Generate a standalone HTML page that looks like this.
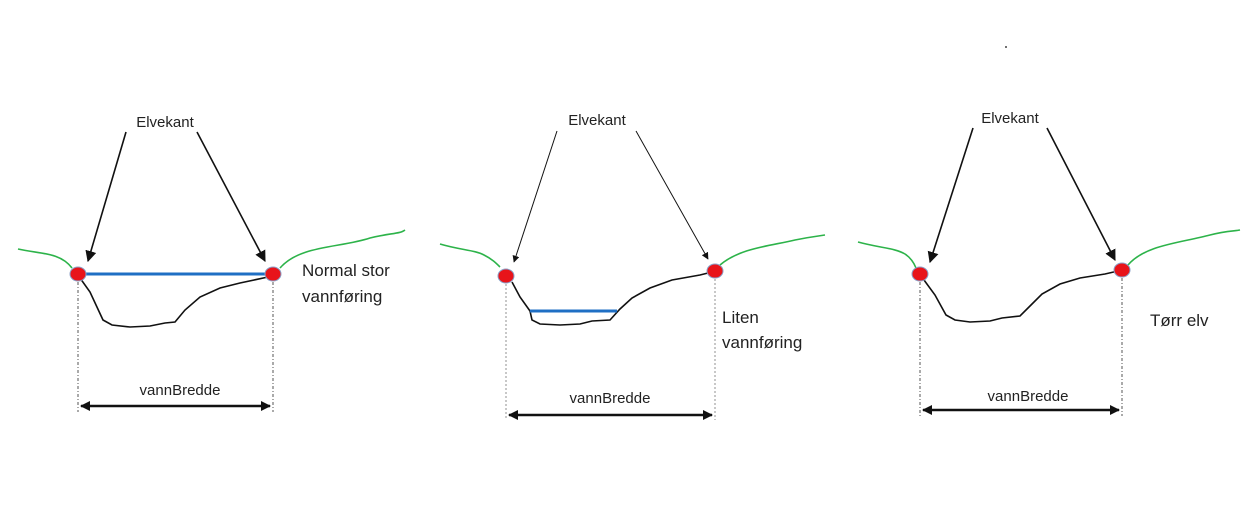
<!DOCTYPE html>
<html><head><meta charset="utf-8"><style>
html,body{margin:0;padding:0;background:#fff;width:1253px;height:526px;overflow:hidden}
text{font-family:"Liberation Sans",sans-serif;fill:#222}
</style></head><body>
<svg width="1253" height="526" viewBox="0 0 1253 526">
<defs>
<marker id="ah" viewBox="0 0 10 10" refX="9" refY="5" markerWidth="7" markerHeight="7" orient="auto-start-reverse"><path d="M0,0 L10,5 L0,10 z" fill="#111"/></marker>
<marker id="ah2" viewBox="0 0 10 10" refX="9" refY="5" markerWidth="4" markerHeight="4" orient="auto-start-reverse"><path d="M0,0 L10,5 L0,10 z" fill="#111"/></marker>
</defs>
<circle cx="1006" cy="47" r="1" fill="#444"/>

<!-- Panel 1 -->
<g>
<text x="165" y="127" font-size="15" text-anchor="middle">Elvekant</text>
<line x1="126" y1="132" x2="88" y2="261" stroke="#111" stroke-width="1.6" marker-end="url(#ah)"/>
<line x1="197" y1="132" x2="265" y2="261" stroke="#111" stroke-width="1.6" marker-end="url(#ah)"/>
<path d="M18,249 C40,254 60,252 72,268" fill="none" stroke="#2db34a" stroke-width="1.6"/>
<path d="M280,268 C300,245 340,248 370,238 C390,233 400,234 405,230" fill="none" stroke="#2db34a" stroke-width="1.6"/>
<path d="M80,278 L90,292 L103,320 L112,325 L130,327 L150,326 L165,323 L175,322 L185,310 L200,297 L220,288 L240,283 L268,277" fill="none" stroke="#111" stroke-width="1.6"/>
<line x1="80" y1="274" x2="270" y2="274" stroke="#1f6fc4" stroke-width="3"/>
<ellipse cx="78" cy="274" rx="8" ry="7" fill="#e8141a" stroke="#8aa0c8"/>
<ellipse cx="273" cy="274" rx="8" ry="7" fill="#e8141a" stroke="#8aa0c8"/>
<line x1="78" y1="282" x2="78" y2="412" stroke="#555" stroke-dasharray="3,2,1,2"/>
<line x1="273" y1="282" x2="273" y2="412" stroke="#555" stroke-dasharray="3,2,1,2"/>
<line x1="81" y1="406" x2="270" y2="406" stroke="#111" stroke-width="2.5" marker-start="url(#ah2)" marker-end="url(#ah2)"/>
<text x="180" y="395" font-size="15" text-anchor="middle">vannBredde</text>
<text x="302" y="276" font-size="17">Normal stor</text>
<text x="302" y="302" font-size="17">vannføring</text>
</g>

<!-- Panel 2 -->
<g>
<text x="597" y="125" font-size="15" text-anchor="middle">Elvekant</text>
<line x1="557" y1="131" x2="514" y2="262" stroke="#111" stroke-width="1" marker-end="url(#ah)"/>
<line x1="636" y1="131" x2="708" y2="259" stroke="#111" stroke-width="1" marker-end="url(#ah)"/>
<path d="M440,244 C460,250 475,250 484,255 C492,259 496,263 500,267" fill="none" stroke="#2db34a" stroke-width="1.6"/>
<path d="M720,265 C740,248 770,246 795,240 C810,237 818,236 825,235" fill="none" stroke="#2db34a" stroke-width="1.6"/>
<path d="M512,282 L520,297 L530,311 L532,320 L540,324 L560,325 L580,324 L592,321 L610,320 L620,309 L632,298 L650,288 L672,280 L700,275 L712,272" fill="none" stroke="#111" stroke-width="1.6"/>
<line x1="530" y1="311" x2="617" y2="311" stroke="#1f6fc4" stroke-width="3"/>
<ellipse cx="506" cy="276" rx="8" ry="7" fill="#e8141a" stroke="#8aa0c8"/>
<ellipse cx="715" cy="271" rx="8" ry="7" fill="#e8141a" stroke="#8aa0c8"/>
<line x1="506" y1="284" x2="506" y2="420" stroke="#777" stroke-width="0.8" stroke-dasharray="2,2"/>
<line x1="715" y1="279" x2="715" y2="420" stroke="#777" stroke-width="0.8" stroke-dasharray="2,2"/>
<line x1="509" y1="415" x2="712" y2="415" stroke="#111" stroke-width="2.5" marker-start="url(#ah2)" marker-end="url(#ah2)"/>
<text x="610" y="403" font-size="15" text-anchor="middle">vannBredde</text>
<text x="722" y="323" font-size="17">Liten</text>
<text x="722" y="348" font-size="17">vannføring</text>
</g>

<!-- Panel 3 -->
<g>
<text x="1010" y="123" font-size="15" text-anchor="middle">Elvekant</text>
<line x1="973" y1="128" x2="930" y2="262" stroke="#111" stroke-width="1.6" marker-end="url(#ah)"/>
<line x1="1047" y1="128" x2="1115" y2="260" stroke="#111" stroke-width="1.6" marker-end="url(#ah)"/>
<path d="M858,242 C880,248 895,248 905,254 C911,258 914,263 916,268" fill="none" stroke="#2db34a" stroke-width="1.6"/>
<path d="M1128,265 C1145,245 1180,243 1210,235 C1225,231 1235,231 1240,230" fill="none" stroke="#2db34a" stroke-width="1.6"/>
<path d="M924,280 L935,295 L946,315 L955,320 L970,322 L990,321 L1002,318 L1020,316 L1030,306 L1042,294 L1060,284 L1080,278 L1105,274 L1118,271" fill="none" stroke="#111" stroke-width="1.6"/>
<ellipse cx="920" cy="274" rx="8" ry="7" fill="#e8141a" stroke="#8aa0c8"/>
<ellipse cx="1122" cy="270" rx="8" ry="7" fill="#e8141a" stroke="#8aa0c8"/>
<line x1="920" y1="282" x2="920" y2="416" stroke="#555" stroke-dasharray="3,2,1,2"/>
<line x1="1122" y1="278" x2="1122" y2="416" stroke="#555" stroke-dasharray="3,2,1,2"/>
<line x1="923" y1="410" x2="1119" y2="410" stroke="#111" stroke-width="2.5" marker-start="url(#ah2)" marker-end="url(#ah2)"/>
<text x="1028" y="401" font-size="15" text-anchor="middle">vannBredde</text>
<text x="1150" y="326" font-size="17">Tørr elv</text>
</g>
</svg>
</body></html>
